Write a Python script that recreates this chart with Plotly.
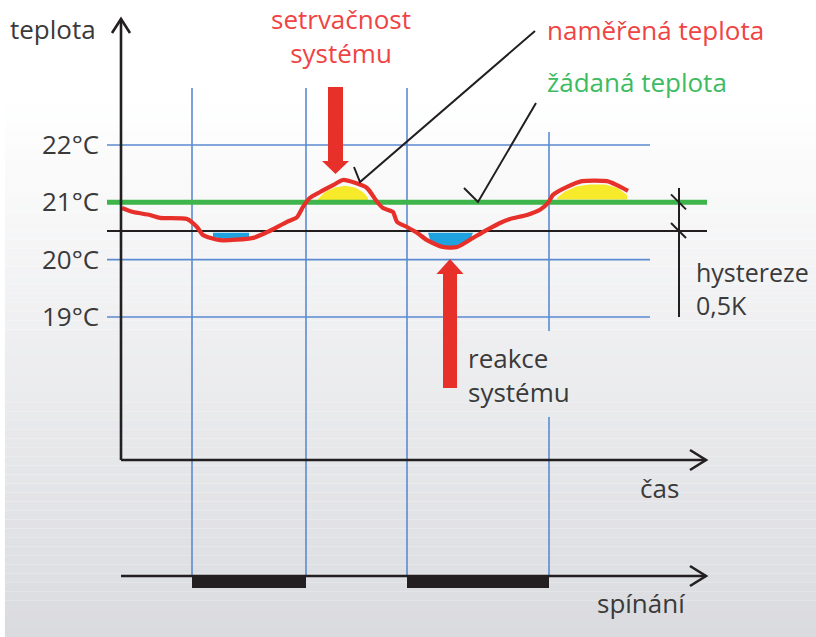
import plotly.graph_objects as go

W, H = 816, 637

# ---- data ----
curve_time = [122, 133, 150, 160, 187, 197, 203, 220, 253, 267, 287, 297, 303, 310, 320, 333, 343,
              355, 367, 377, 383, 393, 397, 407, 417, 427, 443, 457, 473, 487, 500, 510, 527, 540,
              548, 553, 567, 582, 607, 617, 628]
curve_temp = [20.90, 20.83, 20.78, 20.73, 20.71, 20.57, 20.43, 20.34, 20.38, 20.48, 20.66, 20.74, 20.92,
              21.08, 21.18, 21.30, 21.39, 21.34, 21.25, 21.01, 20.90, 20.83, 20.66, 20.57, 20.47, 20.34,
              20.22, 20.22, 20.38, 20.52, 20.64, 20.71, 20.78, 20.87, 20.99, 21.13, 21.27, 21.37, 21.37,
              21.30, 21.20]

setpoint = 21.0
hysteresis = 0.5
switch_on = 20.5
grid_temps = [22, 20, 19]
tick_temps = [22, 21, 20, 19]
tick_labels = ["22°C", "21°C", "20°C", "19°C"]
heating_periods = [(192, 306), (407, 549)]

overshoot1_t = [318, 325, 335, 345, 355, 363, 368, 368, 318]
overshoot1_T = [21.06, 21.18, 21.26, 21.29, 21.26, 21.18, 21.08, 21.0, 21.0]
overshoot2_t = [557, 565, 577, 590, 605, 617, 627, 627, 557]
overshoot2_T = [21.08, 21.19, 21.28, 21.31, 21.31, 21.26, 21.13, 21.05, 21.05]
undershoot1_t = [213, 249, 249, 230, 213]
undershoot1_T = [20.47, 20.47, 20.39, 20.35, 20.39]
undershoot2_t = [428, 473, 470, 455, 440, 430]
undershoot2_T = [20.47, 20.47, 20.35, 20.24, 20.24, 20.35]

# temperature scale: 22°C at px 145, 19°C at px 317
PX_PER_DEG = (317 - 145) / 3.0
T_TOP = 22 + 145 / PX_PER_DEG
T_BOT = 22 - (H - 145) / PX_PER_DEG


def P(py):
    return 1 - py / H


def ypx(T):
    return 145 + (22 - T) * PX_PER_DEG


FONT = "Open Sans"
GRAY = "#3a3a3a"
RED_T = "#ef4444"
GREEN = "#3db54a"
GREEN_T = "#3dbb62"
BLUE = "#5b8bd0"
BLACK = "#231f20"
RED = "#e8302a"

fig = go.Figure()
shapes = []

# background gradient
n = 60
y0, y1 = 95, H
for i in range(n):
    a = y0 + (y1 - y0) * i / n
    b = y0 + (y1 - y0) * (i + 1) / n
    f = (i + 0.5) / n
    r = round(255 - f * (255 - 218))
    g = round(255 - f * (255 - 219))
    bb = round(255 - f * (255 - 223))
    shapes.append(dict(type="rect", xref="paper", yref="paper", x0=0.006, x1=1, y0=P(b), y1=P(a),
                       fillcolor=f"rgb({r},{g},{bb})", line=dict(width=0), layer="below"))

# vertical blue lines
for (s, e) in heating_periods:
    for x in (s, e):
        if x == 549:
            segs = [(132, 331), (417, 576)]
        else:
            segs = [(88, 576)]
        for (a, b) in segs:
            shapes.append(dict(type="line", xref="x", yref="paper", x0=x, x1=x, y0=P(a), y1=P(b),
                               line=dict(color=BLUE, width=1.6), layer="below"))

# horizontal blue grid lines
for T in grid_temps:
    shapes.append(dict(type="line", xref="x", yref="y", x0=107, x1=650, y0=T, y1=T,
                       line=dict(color=BLUE, width=1.6), layer="below"))

# axes
AX = dict(color=BLACK, width=2.6)
shapes.append(dict(type="line", xref="x", yref="paper", x0=121, x1=121, y0=P(460), y1=P(19), line=AX))
shapes.append(dict(type="path", xref="paper", yref="paper",
                   path=f"M {112/W} {P(33)} L {121/W} {P(19)} L {130/W} {P(33)}", line=AX))
for ay in (460, 576):
    shapes.append(dict(type="line", xref="x", yref="paper", x0=121, x1=706, y0=P(ay), y1=P(ay), line=AX))
    shapes.append(dict(type="path", xref="paper", yref="paper",
                       path=f"M {690/W} {P(ay-10)} L {706/W} {P(ay)} L {690/W} {P(ay+10)}", line=AX))

# switching bars
for (s, e) in heating_periods:
    shapes.append(dict(type="rect", xref="x", yref="paper", x0=s, x1=e, y0=P(588), y1=P(575),
                       fillcolor=BLACK, line=dict(width=0)))

# hysteresis bracket
shapes.append(dict(type="line", xref="x", yref="paper", x0=679, x1=679, y0=P(188), y1=P(317),
                   line=dict(color=BLACK, width=2)))
for T in (setpoint, switch_on):
    yy = ypx(T)
    shapes.append(dict(type="line", xref="x", yref="paper", x0=671, x1=686, y0=P(yy - 8), y1=P(yy + 7),
                       line=dict(color=BLACK, width=2)))

# pointer lines
shapes.append(dict(type="path", xref="paper", yref="paper",
                   path=f"M {354/W} {P(167)} L {360/W} {P(182)} L {535/W} {P(31)}",
                   line=dict(color=BLACK, width=2)))
shapes.append(dict(type="path", xref="paper", yref="paper",
                   path=f"M {464/W} {P(188)} L {478/W} {P(202)} L {536/W} {P(103)}",
                   line=dict(color=BLACK, width=2)))

# red arrows
def arrow_down(cx, top, base, tip, sw, hw):
    pts = [(cx - sw, top), (cx + sw, top), (cx + sw, base), (cx + hw, base), (cx, tip),
           (cx - hw, base), (cx - sw, base)]
    return "M " + " L ".join(f"{x/W} {P(y)}" for x, y in pts) + " Z"

shapes.append(dict(type="path", xref="paper", yref="paper", path=arrow_down(335.5, 87, 161, 174, 7.5, 13.5),
                   fillcolor=RED, line=dict(width=0)))
shapes.append(dict(type="path", xref="paper", yref="paper", path=arrow_down(450, 388, 274, 259, 7, 13.5),
                   fillcolor=RED, line=dict(width=0)))

# fills (over/undershoot highlights)
for tt, TT, col in [(overshoot1_t, overshoot1_T, "#f6ea2a"), (overshoot2_t, overshoot2_T, "#f6ea2a"),
                    (undershoot1_t, undershoot1_T, "#1fa3e0"), (undershoot2_t, undershoot2_T, "#1fa3e0")]:
    fig.add_trace(go.Scatter(x=tt, y=TT, mode="lines", fill="toself", fillcolor=col,
                             line=dict(width=0, color=col), hoverinfo="skip", showlegend=False))

# setpoint and switching threshold lines
fig.add_trace(go.Scatter(x=[107, 707], y=[switch_on, switch_on], mode="lines",
                         line=dict(color=BLACK, width=2), showlegend=False, hoverinfo="skip"))
fig.add_trace(go.Scatter(x=[107, 707], y=[setpoint, setpoint], mode="lines",
                         line=dict(color=GREEN, width=5), showlegend=False, hoverinfo="skip"))

# measured temperature
fig.add_trace(go.Scatter(x=curve_time, y=curve_temp, mode="lines",
                         line=dict(color=RED, width=4.2, shape="spline", smoothing=0.6),
                         showlegend=False, hoverinfo="skip"))

ann = []
def text(x, y, s, color=GRAY, xanchor="left", size=26, align="left"):
    ann.append(dict(x=x, y=P(y), xref="x", yref="paper", text=s, showarrow=False, xanchor=xanchor,
                    yanchor="middle", align=align, font=dict(family=FONT, size=size, color=color)))

text(8, 29, "teplota")
for T, lab in zip(tick_temps, tick_labels):
    text(101, ypx(T) - 1, lab, xanchor="right")
text(341, 36, "setrvačnost<br>systému", RED_T, "center", size=26, align="center")
text(545, 30, "naměřená teplota", RED_T)
text(545, 82, "žádaná teplota", GREEN_T)
text(694, 288.5, "hystereze<br>0,5K", size=25)
text(466, 375, "reakce<br>systému", size=26)
text(638, 488, "čas")
text(595, 603, "spínání")

fig.update_layout(
    width=W, height=H, margin=dict(l=0, r=0, t=0, b=0),
    paper_bgcolor="white", plot_bgcolor="white",
    xaxis=dict(range=[0, W], visible=False, fixedrange=True),
    yaxis=dict(range=[T_BOT, T_TOP], visible=False, fixedrange=True),
    shapes=shapes, annotations=ann, showlegend=False,
)
fig.write_html("out.html", config={"displayModeBar": False},
               post_script="document.body.style.margin='0';document.body.style.overflow='hidden';")
